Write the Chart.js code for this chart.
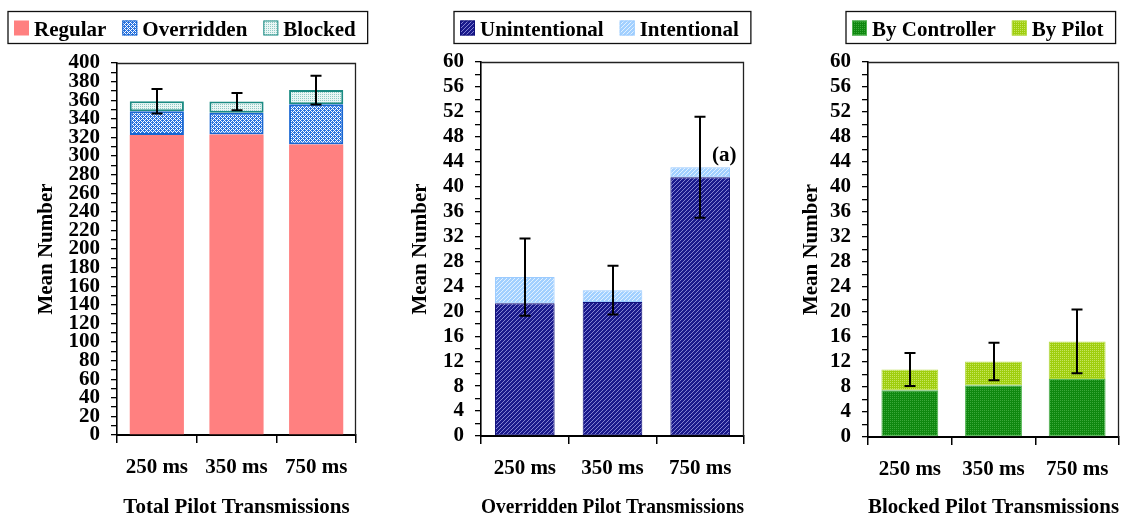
<!DOCTYPE html>
<html>
<head>
<meta charset="utf-8">
<title>Pilot Transmissions</title>
<script src="https://cdn.jsdelivr.net/npm/chart.js@4.4.1/dist/chart.umd.min.js"></script>
<style>
  html, body { margin: 0; padding: 0; background: #fff; }
  #wrap { position: relative; width: 1125px; height: 519px; overflow: hidden; }
  .panel { position: absolute; top: 0; height: 519px; }
  canvas { display: block; }
</style>
</head>
<body>
<div id="wrap">
  <div class="panel" style="left:0;width:380px"><canvas id="totalChart" width="380" height="519"></canvas></div>
  <div class="panel" style="left:380px;width:400px"><canvas id="overriddenChart" width="400" height="519"></canvas></div>
  <div class="panel" style="left:780px;width:345px"><canvas id="blockedChart" width="345" height="519"></canvas></div>
</div>
<script>
// ---- data ----
const categories = ['250 ms', '350 ms', '750 ms'];

// Total pilot transmissions (stacked)
const regular = [322.5, 323, 312.5];
const overridden = [25.5, 23.4, 43.1];
const blocked = [10.8, 12.1, 15.3];
const totalError = [13.2, 9.3, 15.4];

// Overridden pilot transmissions (stacked)
const unintentional = [21.3, 21.5, 41.5];
const intentional = [4.2, 1.9, 1.6];
const overriddenError = [6.2, 3.9, 8.1];

// Blocked pilot transmissions (stacked)
const byController = [7.5, 8.3, 9.3];
const byPilot = [3.3, 3.8, 6.0];
const blockedError = [2.65, 3.0, 5.1];

// axis ranges and tick labels
const totalTicks = { max: 400, step: 10, labelEvery: 20 };
const countTicks = { max: 60, step: 2, labelEvery: 4 };
const yTitle = 'Mean Number';
const xTitles = ['Total Pilot Transmissions', 'Overridden Pilot Transmissions', 'Blocked Pilot Transmissions'];
const noteText = '(a)';
const noteIndex = 2;
const noteValue = 45;

// ---- styling helpers ----
const SERIF = '"Liberation Serif", "Times New Roman", Times, serif';
Chart.defaults.font.family = SERIF;
Chart.defaults.font.weight = 'bold';
Chart.defaults.color = '#000';

function makePattern(ctx, size, bg, fg, paint) {
  const c = document.createElement('canvas');
  c.width = c.height = size;
  const g = c.getContext('2d');
  g.fillStyle = bg;
  g.fillRect(0, 0, size, size);
  g.fillStyle = fg;
  for (let y = 0; y < size; y++) {
    for (let x = 0; x < size; x++) {
      if (paint(x, y)) g.fillRect(x, y, 1, 1);
    }
  }
  return ctx.createPattern(c, 'repeat');
}
// fine diagonal checker, thin diagonal and dot textures
const checker = (x, y) => (x + y) % 4 === 0 || (x % 2 === 1 && y % 2 === 1 && (x + y) % 4 === 2);
const diag1 = (x, y) => (x + y) % 4 === 0;
const dots = (x, y) => x % 2 === 0 && y % 2 === 0;

// frame on top and right of the plot area
const plotFrame = {
  id: 'plotFrame',
  beforeDatasetsDraw(chart) {
    const { ctx, chartArea: a } = chart;
    ctx.save();
    ctx.strokeStyle = '#222';
    ctx.lineWidth = 1.3;
    ctx.beginPath();
    ctx.moveTo(a.left, a.top + 0.5);
    ctx.lineTo(a.right - 0.5, a.top + 0.5);
    ctx.lineTo(a.right - 0.5, a.bottom);
    ctx.stroke();
    ctx.restore();
  }
};

// error bars centred on the top of each stack
const stackErrorBars = {
  id: 'stackErrorBars',
  afterDatasetsDraw(chart, args, opts) {
    if (!opts.errors) return;
    const { ctx } = chart;
    const xs = chart.scales.x, ys = chart.scales.y;
    ctx.save();
    ctx.strokeStyle = '#000';
    ctx.lineWidth = 2;
    opts.errors.forEach((err, i) => {
      let total = 0;
      chart.data.datasets.forEach(ds => { total += ds.data[i]; });
      const x = Math.round(xs.getPixelForValue(i));
      const yHi = ys.getPixelForValue(total + err);
      const yLo = ys.getPixelForValue(total - err);
      const cap = 5.5;
      ctx.beginPath();
      ctx.moveTo(x, yHi); ctx.lineTo(x, yLo);
      ctx.moveTo(x - cap, yHi); ctx.lineTo(x + cap, yHi);
      ctx.moveTo(x - cap, yLo); ctx.lineTo(x + cap, yLo);
      ctx.stroke();
    });
    ctx.restore();
  }
};

// small text note placed next to a bar
const barNote = {
  id: 'barNote',
  afterDatasetsDraw(chart, args, opts) {
    if (!opts.text) return;
    const { ctx } = chart;
    const x = chart.scales.x.getPixelForValue(opts.index) + opts.dx;
    const y = chart.scales.y.getPixelForValue(opts.value);
    ctx.save();
    ctx.font = 'bold 21px ' + SERIF;
    ctx.fillStyle = '#000';
    ctx.textAlign = 'center';
    ctx.textBaseline = 'middle';
    ctx.fillText(opts.text, x, y);
    ctx.restore();
  }
};

// legend drawn inside a bordered box
const boxedLegend = {
  id: 'boxedLegend',
  afterDraw(chart, args, opts) {
    const { ctx } = chart;
    const items = Chart.defaults.plugins.legend.labels.generateLabels(chart);
    ctx.save();
    ctx.font = 'bold 21px ' + SERIF;
    const sw = 15, gapText = 5, gapItem = 16, padL = 6, padR = 12;
    let w = padL + padR;
    items.forEach((it, i) => {
      w += sw + gapText + ctx.measureText(it.text).width + (i ? gapItem : 0);
    });
    const bx = opts.x, by = 11.5, bh = 32;
    ctx.strokeStyle = '#111';
    ctx.lineWidth = 1.3;
    ctx.strokeRect(bx, by, w, bh);
    let x = bx + padL;
    items.forEach((it) => {
      ctx.fillStyle = it.fillStyle;
      ctx.fillRect(x, by + 9, sw, sw);
      if (it.lineWidth) {
        ctx.strokeStyle = it.strokeStyle;
        ctx.lineWidth = 1;
        ctx.strokeRect(x + 0.5, by + 9.5, sw - 1, sw - 1);
      }
      x += sw + gapText;
      ctx.fillStyle = '#000';
      ctx.textBaseline = 'alphabetic';
      ctx.fillText(it.text, x, by + 24);
      x += ctx.measureText(it.text).width + gapItem;
    });
    ctx.restore();
  }
};

function buildPanel(canvasId, datasets, p) {
  const ctx = document.getElementById(canvasId).getContext('2d');
  return new Chart(ctx, {
    type: 'bar',
    data: { labels: categories, datasets: datasets(ctx) },
    plugins: [plotFrame, stackErrorBars, barNote, boxedLegend],
    options: {
      responsive: false,
      animation: false,
      events: [],
      layout: { padding: { top: p.top, right: p.right, left: 0, bottom: 0 } },
      datasets: { bar: { categoryPercentage: 1, barPercentage: 0.68 } },
      plugins: {
        legend: { display: false },
        tooltip: { enabled: false },
        stackErrorBars: { errors: p.errors },
        barNote: p.note || {},
        boxedLegend: { x: p.legendX }
      },
      scales: {
        x: {
          stacked: true,
          afterFit(s) { s.height = p.xHeight; },
          grid: { offset: true, drawOnChartArea: false, drawTicks: true, tickLength: 8, color: '#000', lineWidth: 1.5 },
          border: { display: true, color: '#000', width: 2 },
          ticks: { padding: 12, font: { size: 21, weight: 'bold' }, color: '#000' },
          title: { display: true, text: p.xTitle, font: { size: 21, weight: 'bold' }, color: '#000', padding: { top: 0, bottom: -1 } }
        },
        y: {
          stacked: true,
          min: 0,
          max: p.ticks.max,
          afterFit(s) { s.width = p.yWidth; },
          grid: { drawOnChartArea: false, drawTicks: true, tickLength: 6, color: '#000', lineWidth: 1.3 },
          border: { display: true, color: '#000', width: 1.6 },
          ticks: {
            stepSize: p.ticks.step,
            maxTicksLimit: 200,
            autoSkip: false,
            padding: 11,
            font: { size: 21, weight: 'bold' },
            color: '#000',
            callback: (v) => (v % p.ticks.labelEvery === 0 ? String(v) : '')
          },
          title: { display: true, text: yTitle, font: { size: 21, weight: 'bold' }, color: '#000', padding: { top: p.titlePad, bottom: 0 } }
        }
      }
    }
  });
}

buildPanel('totalChart', (ctx) => [
  { label: 'Regular', data: regular, backgroundColor: '#ff8080', borderWidth: 0 },
  { label: 'Overridden', data: overridden,
    backgroundColor: makePattern(ctx, 4, '#2a74e0', '#ffffff', checker),
    borderColor: '#1766d2', borderWidth: 2, borderSkipped: false },
  { label: 'Blocked', data: blocked,
    backgroundColor: makePattern(ctx, 2, '#eaf6f5', '#8fcac4', dots),
    borderColor: '#1b8b83', borderWidth: 2, borderSkipped: false }
], { top: 63, right: 24, yWidth: 117, xHeight: 84, titlePad: 34, legendX: 8,
     ticks: totalTicks, errors: totalError, xTitle: xTitles[0] });

buildPanel('overriddenChart', (ctx) => [
  { label: 'Unintentional', data: unintentional,
    backgroundColor: makePattern(ctx, 4, '#1a1a8c', '#8282d2', diag1),
    borderColor: '#10107a', borderWidth: 1, borderSkipped: false },
  { label: 'Intentional', data: intentional,
    backgroundColor: makePattern(ctx, 4, '#a2d0ff', '#e2f1ff', diag1),
    borderColor: '#9bcbff', borderWidth: 1, borderSkipped: false }
], { top: 62, right: 36, yWidth: 101, xHeight: 83, titlePad: 28, legendX: 74,
     ticks: countTicks, errors: overriddenError, xTitle: xTitles[1],
     note: { text: noteText, index: noteIndex, value: noteValue, dx: 24 } });

buildPanel('blockedChart', (ctx) => [
  { label: 'By Controller', data: byController,
    backgroundColor: makePattern(ctx, 2, '#0f880f', '#3aa83a', dots),
    borderColor: '#52b452', borderWidth: 1, borderSkipped: false },
  { label: 'By Pilot', data: byPilot,
    backgroundColor: makePattern(ctx, 2, '#9fce0e', '#c6e55e', dots),
    borderColor: '#b6db48', borderWidth: 1, borderSkipped: false }
], { top: 62, right: 6, yWidth: 88, xHeight: 82, titlePad: 19, legendX: 66,
     ticks: countTicks, errors: blockedError, xTitle: xTitles[2] });
</script>
</body>
</html>
